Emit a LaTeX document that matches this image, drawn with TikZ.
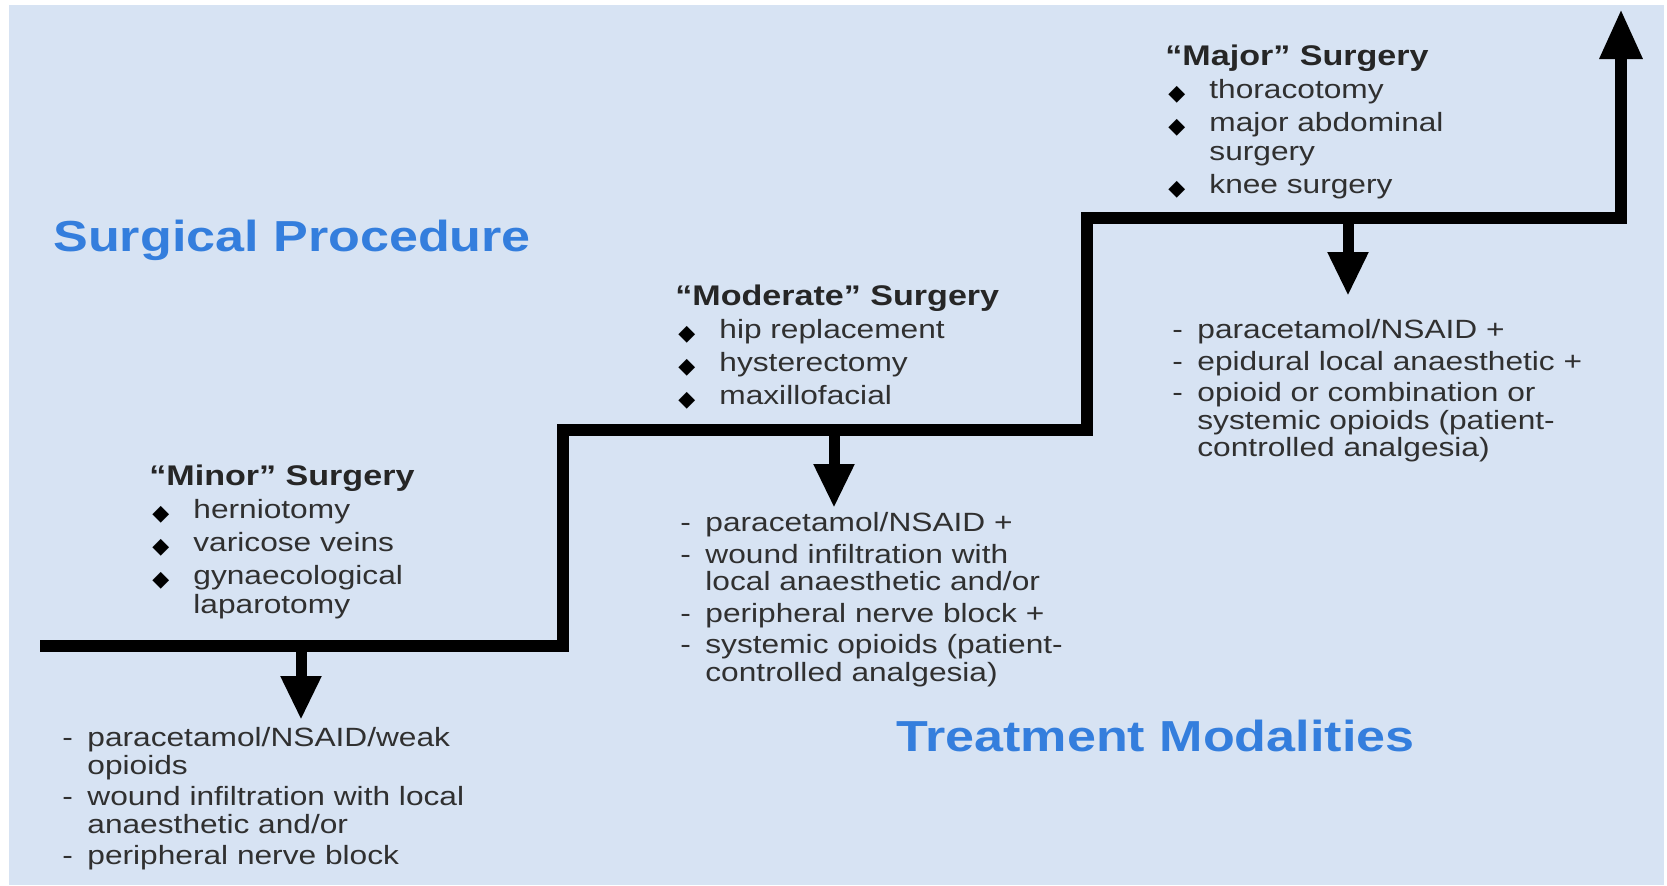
\documentclass[tikz,border=0pt]{standalone}
\usepackage{fontspec}
\setmainfont{Liberation Sans}[FakeStretch=1.2]
\newfontfamily\symfont{DejaVu Sans}
\usetikzlibrary{arrows.meta, positioning}

\definecolor{bgblue}{RGB}{215,227,243}
\definecolor{ttlblue}{RGB}{52,126,221}
\definecolor{txtgray}{RGB}{48,48,48}

% list markers
\newcommand{\bul}{\makebox[22pt][l]{\hspace{1.5pt}\raisebox{-0.6pt}{\symfont\fontsize{11}{11}\selectfont\color{black}◆}}}
\newcommand{\bhang}{\hspace*{22pt}}
\newcommand{\dsh}{\makebox[12.5pt][l]{-}}
\newcommand{\dhang}{\hspace*{12.5pt}}
\newcommand{\hdg}[1]{{\fontsize{14.2}{14.5}\selectfont\bfseries\color{black!85}#1}}

\begin{document}
\begin{tikzpicture}[x=0.5pt, y=-0.5pt,
  stair/.style={line width=6pt, line join=miter, -{Triangle[width=20pt,length=25pt]}},
  down/.style={line width=5.5pt, -{Triangle[width=19pt,length=22pt]}},
  ttl/.style={anchor=base west, inner sep=0pt, text=ttlblue, font=\fontsize{21.7}{26}\selectfont\bfseries},
  surg/.style={anchor=north west, inner sep=0pt, align=left, text=txtgray, font=\fontsize{13.2}{14.5}\selectfont},
  treat/.style={surg, font=\fontsize{13.2}{13.8}\selectfont}]

  \useasboundingbox (0,0) rectangle (1667,885);
  \fill[white] (0,0) rectangle (1667,885);
  \fill[bgblue] (9,5) rectangle (1664,885);

  % corners of the steps
  \coordinate (s0) at (40,646);
  \coordinate (s1) at (563,646);
  \coordinate (s2) at (563,430);
  \coordinate (s3) at (1087,430);
  \coordinate (s4) at (1087,218);
  \coordinate (s5) at (1621,218);
  \coordinate (s6) at (1621,9);

  \draw[stair] (s0) -- (s1) -- (s2) -- (s3) -- (s4) -- (s5) -- (s6);

  % arrows from each step
  \coordinate (d1) at (301,646);
  \coordinate (e1) at (301,720);
  \coordinate (d2) at (834,430);
  \coordinate (e2) at (834,508);
  \coordinate (d3) at (1348,218);
  \coordinate (e3) at (1348,296);

  \draw[down] (d1) -- (e1);
  \draw[down] (d2) -- (e2);
  \draw[down] (d3) -- (e3);

  \node[ttl] (proc) at (53,251) {Surgical Procedure};
  \node[ttl] (modal) at (896,751) {Treatment Modalities};

  \node[surg] (minor) at (149,465) {\hdg{“Minor” Surgery}\\[2pt]
    \bul herniotomy\\[2pt]
    \bul varicose veins\\[2pt]
    \bul gynaecological\\
    \bhang laparotomy};

  \node[surg] (moderate) at (675,285) {\hdg{“Moderate” Surgery}\\[2pt]
    \bul hip replacement\\[2pt]
    \bul hysterectomy\\[2pt]
    \bul maxillofacial};

  \node[surg] (major) at (1165,45) {\hdg{“Major” Surgery}\\[2pt]
    \bul thoracotomy\\[2pt]
    \bul major abdominal\\
    \bhang surgery\\[2pt]
    \bul knee surgery};

  \node[treat] (tminor) at (62,727) {\dsh paracetamol/NSAID/weak\\
    \dhang opioids\\[2pt]
    \dsh wound infiltration with local\\
    \dhang anaesthetic and/or\\[2pt]
    \dsh peripheral nerve block};

  \node[treat] (tmoderate) at (680,512) {\dsh paracetamol/NSAID +\\[2pt]
    \dsh wound infiltration with\\
    \dhang local anaesthetic and/or\\[2pt]
    \dsh peripheral nerve block +\\[2pt]
    \dsh systemic opioids (patient-\\
    \dhang controlled analgesia)};

  \node[treat] (tmajor) at (1172,319) {\dsh paracetamol/NSAID +\\[2pt]
    \dsh epidural local anaesthetic +\\[2pt]
    \dsh opioid or combination or\\
    \dhang systemic opioids (patient-\\
    \dhang controlled analgesia)};

\end{tikzpicture}
\end{document}
